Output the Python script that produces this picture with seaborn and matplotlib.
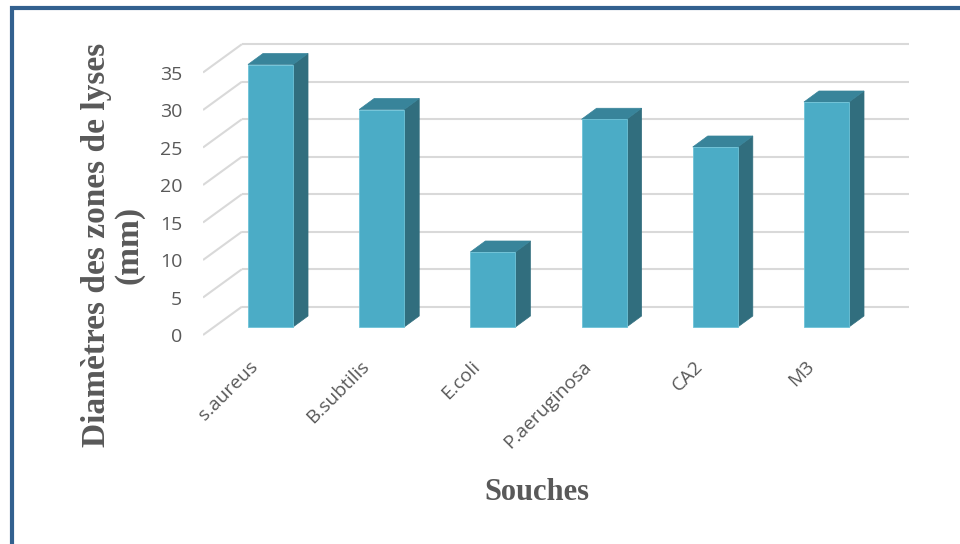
import numpy as np
import pandas as pd
import matplotlib
matplotlib.use("Agg")
import matplotlib.pyplot as plt
import matplotlib.transforms as mtransforms
from matplotlib.patches import Polygon, Rectangle
import seaborn as sns

# Lysis zone diameters per strain (mm)
souches = ["s.aureus", "B.subtilis", "E.coli", "P.aeruginosa", "CA2", "M3"]
diametres = [35, 29, 10, 27.7, 24, 30]
yticks = [0, 5, 10, 15, 20, 25, 30, 35]

df = pd.DataFrame({"Souches": souches, "Diametre": diametres})

sns.set_style("white")
plt.rcParams["font.family"] = ["Open Sans", "DejaVu Sans"]

FRONT = "#4BACC6"
TOP = "#38849A"
SIDE = "#316E7E"
GRID = "#D9D9D9"
TXT = "#595959"

fig = plt.figure(figsize=(9.6, 5.44), dpi=100)
fig.patch.set_facecolor("white")

# frame around the chart
fig.patches.append(Rectangle((12 / 960, -0.2), 1.2, 1 - 8 / 544 + 0.2,
                             transform=fig.transFigure, fill=False,
                             edgecolor="#33618F", linewidth=3.0, zorder=0))

ax = fig.add_axes([203 / 960, (544 - 345) / 544, (930 - 203) / 960, 315 / 544])

# oblique offsets (data units) for the 3D look
back_dx, back_dy = 0.243, 2.71      # bar front plane -> back wall
front_dx, front_dy = -0.107, -1.067  # bar front plane -> floor front edge
depth_dx, depth_dy = 0.135, 1.467   # bar depth

# back wall grid and left-wall diagonals
for v in yticks:
    ax.plot([-0.5 + back_dx, 5.5 + back_dx], [v + back_dy, v + back_dy],
            color=GRID, lw=1.5, zorder=0, solid_capstyle="butt")
    ax.plot([-0.5 + front_dx, -0.5 + back_dx], [v + front_dy, v + back_dy],
            color=GRID, lw=1.5, zorder=0, solid_capstyle="butt")

sns.barplot(data=df, x="Souches", y="Diametre", color=FRONT, saturation=1,
            width=0.405, ax=ax, zorder=3, edgecolor="#6EC3D8", linewidth=0.6)

for p in list(ax.patches):
    x0 = p.get_x()
    x1 = x0 + p.get_width()
    h = p.get_height()
    side = Polygon([(x1, 0), (x1 + depth_dx, depth_dy), (x1 + depth_dx, h + depth_dy), (x1, h)],
                   closed=True, facecolor=SIDE, edgecolor=SIDE, lw=0.5, zorder=2)
    top = Polygon([(x0, h), (x1, h), (x1 + depth_dx, h + depth_dy), (x0 + depth_dx, h + depth_dy)],
                  closed=True, facecolor=TOP, edgecolor=TOP, lw=0.5, zorder=2)
    ax.add_patch(side)
    ax.add_patch(top)

# limits set after the barplot so the categorical autoscale does not override them
ax.set_xlim(-0.607, 5.931)
ax.set_ylim(-2.4, 39.6)

for s in ax.spines.values():
    s.set_visible(False)
ax.grid(False)

ax.set_yticks(np.array(yticks) + front_dy)
ax.set_yticklabels([str(t) for t in yticks])
ax.tick_params(axis="y", length=0, pad=15, labelsize=14, labelcolor=TXT)
ax.tick_params(axis="x", length=0, pad=9, labelsize=13.8, labelcolor=TXT)
ax.set_xlabel("")
ax.set_ylabel("")

shift = mtransforms.ScaledTranslation(-9 / 100, 0, fig.dpi_scale_trans)
for lab in ax.get_xticklabels():
    lab.set_rotation(45)
    lab.set_ha("right")
    lab.set_va("top")
    lab.set_transform(lab.get_transform() + shift)

fig.text(113 / 960, 1 - 245 / 544, "Diamètres des zones de lyses\n(mm)",
         rotation=90, ha="center", va="center", multialignment="center",
         fontsize=24, fontweight="bold", color=TXT,
         family=["Liberation Serif", "DejaVu Serif"], linespacing=1.05)
fig.text(537 / 960, 1 - 493 / 544, "Souches", ha="center", va="center",
         fontsize=22, fontweight="bold", color=TXT,
         family=["Liberation Serif", "DejaVu Serif"])

fig.savefig("out.png", dpi=100, facecolor="white")
